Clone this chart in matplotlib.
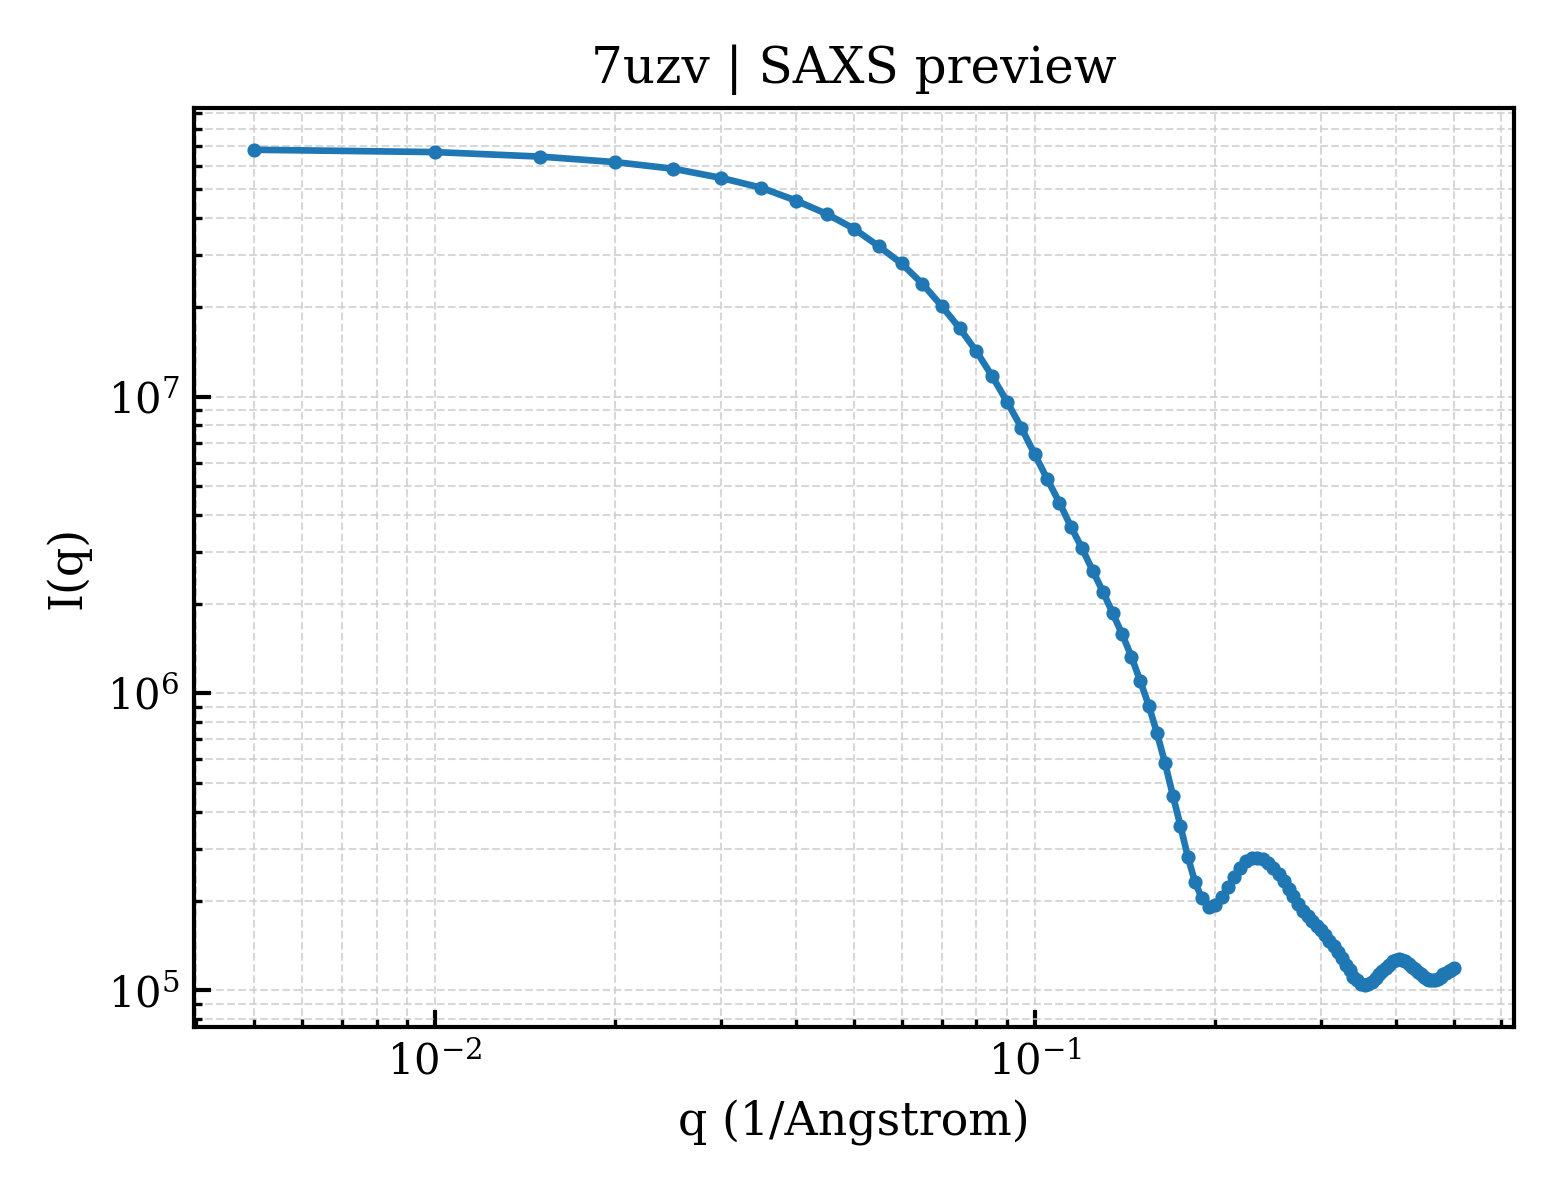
import numpy as np
import matplotlib
matplotlib.use("Agg")
import matplotlib.pyplot as plt

plt.rcParams['font.family'] = ['DejaVu Serif']
plt.rcParams['mathtext.fontset'] = 'dejavuserif'

q = [0.005 * k for k in range(1, 101)]
intensity = [
    6.79e7, 6.67e7, 6.44e7, 6.17e7, 5.86e7, 5.46e7, 5.06e7, 4.58e7, 4.13e7, 3.68e7,
    3.21e7, 2.81e7, 2.40e7, 2.02e7, 1.70e7, 1.42e7, 1.17e7, 9.6e6, 7.87e6, 6.40e6,
    5.27e6, 4.39e6, 3.64e6, 3.08e6, 2.59e6, 2.20e6, 1.86e6, 1.58e6, 1.33e6, 1.10e6,
    9.10e5, 7.33e5, 5.81e5, 4.53e5, 3.58e5, 2.82e5, 2.32e5, 2.04e5, 1.91e5, 1.93e5,
    2.06e5, 2.22e5, 2.41e5, 2.59e5, 2.73e5, 2.79e5, 2.80e5, 2.77e5, 2.69e5, 2.58e5,
    2.46e5, 2.33e5, 2.20e5, 2.07e5, 1.95e5, 1.85e5, 1.78e5, 1.71e5, 1.65e5, 1.59e5,
    1.53e5, 1.47e5, 1.41e5, 1.35e5, 1.28e5, 1.22e5, 1.17e5, 1.11e5, 1.08e5, 1.05e5,
    1.04e5, 1.05e5, 1.07e5, 1.10e5, 1.13e5, 1.16e5, 1.19e5, 1.22e5, 1.25e5, 1.26e5,
    1.27e5, 1.26e5, 1.25e5, 1.23e5, 1.20e5, 1.18e5, 1.15e5, 1.13e5, 1.11e5, 1.09e5,
    1.08e5, 1.08e5, 1.08e5, 1.09e5, 1.11e5, 1.13e5, 1.14e5, 1.16e5, 1.17e5, 1.19e5,
]

title = "7uzv | SAXS preview"
xlabel = "q (1/Angstrom)"
ylabel = "I(q)"

fig, ax = plt.subplots(figsize=(5.2, 4.0), dpi=300)
fig.subplots_adjust(left=0.1244, right=0.9705, top=0.91, bottom=0.1442)

ax.plot(q, intensity, '-o', color='#1f77b4', lw=1.6, ms=2.4)
ax.set_xscale('log')
ax.set_yscale('log')

ax.grid(True, which='both', linestyle='--', linewidth=0.5, color='#cccccc', alpha=0.75)
ax.tick_params(which='both', direction='in', top=False, right=False, labelsize=10)
ax.tick_params(which='major', length=4, width=1)
ax.tick_params(which='minor', length=2, width=0.8)
for s in ax.spines.values():
    s.set_linewidth(1.0)

ax.set_title(title, fontsize=12)
ax.set_xlabel(xlabel, fontsize=11)
ax.set_ylabel(ylabel, fontsize=11)

fig.savefig("out.png", dpi=300)
